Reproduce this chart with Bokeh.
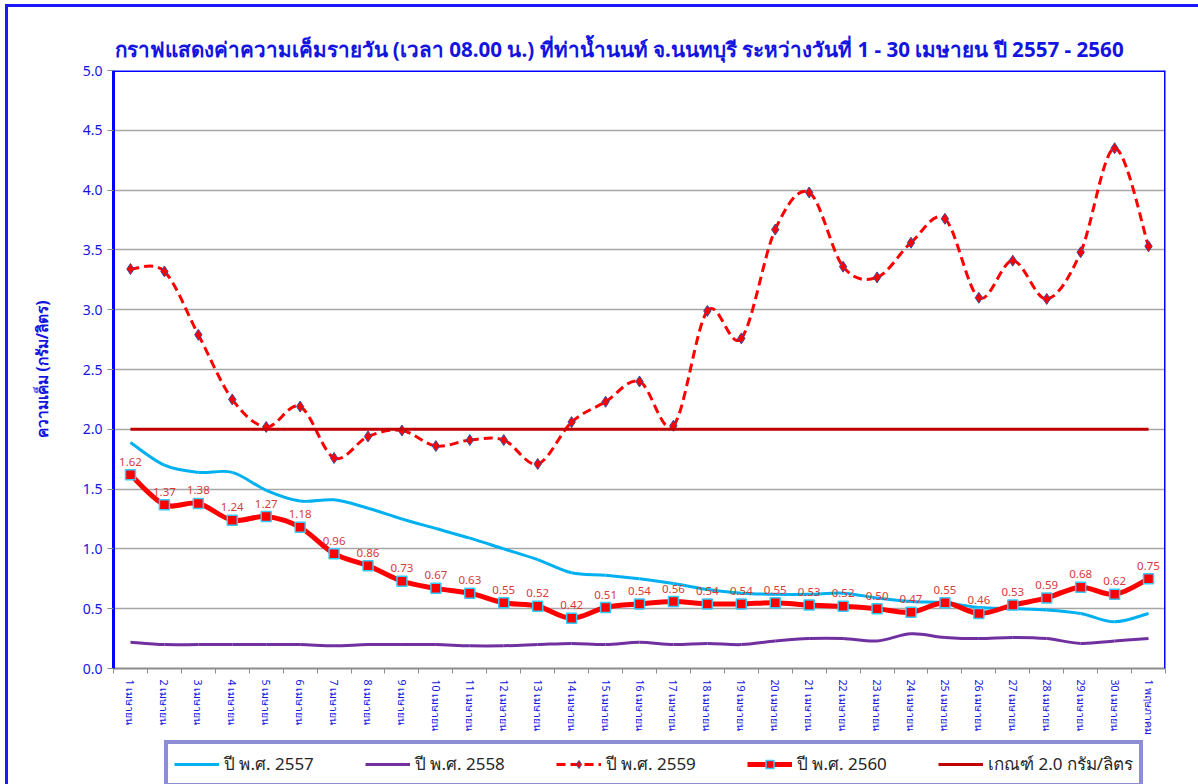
from bokeh.plotting import figure
from bokeh.layouts import column
from bokeh.models import (Range1d, FixedTicker, NumeralTickFormatter, Span, Legend,
                          LegendItem, ColumnDataSource)
from bokeh.core.properties import value
from bokeh.embed import file_html
from bokeh.resources import INLINE

# ---------------- data ----------------
day_labels = ["1 เมษายน", "2 เมษายน", "3 เมษายน", "4 เมษายน", "5 เมษายน", "6 เมษายน",
              "7 เมษายน", "8 เมษายน", "9 เมษายน", "10 เมษายน", "11 เมษายน", "12 เมษายน",
              "13 เมษายน", "14 เมษายน", "15 เมษายน", "16 เมษายน", "17 เมษายน", "18 เมษายน",
              "19 เมษายน", "20 เมษายน", "21 เมษายน", "22 เมษายน", "23 เมษายน", "24 เมษายน",
              "25 เมษายน", "26 เมษายน", "27 เมษายน", "28 เมษายน", "29 เมษายน", "30 เมษายน",
              "1 พฤษภาคม"]
day_index = list(range(1, 32))

y2557 = [1.89, 1.70, 1.64, 1.64, 1.49, 1.40, 1.41, 1.34, 1.25, 1.17, 1.09, 1.00, 0.91, 0.80,
         0.78, 0.75, 0.71, 0.66, 0.63, 0.62, 0.62, 0.63, 0.59, 0.56, 0.55, 0.51, 0.50, 0.49,
         0.46, 0.39, 0.46]
y2558 = [0.22, 0.20, 0.20, 0.20, 0.20, 0.20, 0.19, 0.20, 0.20, 0.20, 0.19, 0.19, 0.20, 0.21,
         0.20, 0.22, 0.20, 0.21, 0.20, 0.23, 0.25, 0.25, 0.23, 0.29, 0.26, 0.25, 0.26, 0.25,
         0.21, 0.23, 0.25]
y2559 = [3.34, 3.32, 2.79, 2.25, 2.02, 2.19, 1.76, 1.94, 1.99, 1.86, 1.91, 1.91, 1.71, 2.06,
         2.23, 2.40, 2.03, 2.99, 2.76, 3.67, 3.98, 3.36, 3.27, 3.56, 3.76, 3.10, 3.41, 3.09,
         3.48, 4.35, 3.53]
y2560 = [1.62, 1.37, 1.38, 1.24, 1.27, 1.18, 0.96, 0.86, 0.73, 0.67, 0.63, 0.55, 0.52, 0.42,
         0.51, 0.54, 0.56, 0.54, 0.54, 0.55, 0.53, 0.52, 0.50, 0.47, 0.55, 0.46, 0.53, 0.59,
         0.68, 0.62, 0.75]
threshold = 2.0

series_names = ["ปี พ.ศ. 2557", "ปี พ.ศ. 2558", "ปี พ.ศ. 2559", "ปี พ.ศ. 2560",
                "เกณฑ์ 2.0 กรัม/ลิตร"]
title_text = ("กราฟแสดงค่าความเค็มรายวัน (เวลา 08.00 น.) ที่ท่าน้ำนนท์ จ.นนทบุรี "
              "ระหว่างวันที่ 1 - 30 เมษายน ปี 2557 - 2560")
y_label = "ความเค็ม (กรัม/ลิตร)"

FONT = "Noto Sans"
BLUE = "#1414E0"

C57, C58, C59, C60, CTH = "#00b0f0", "#7030a0", "#ff0000", "#ff0000", "#c00000"


def smooth(xs, ys):
    """Bezier segments through the data points (Excel-style smoothed line)."""
    n = len(xs)
    d = dict(x0=[], y0=[], x1=[], y1=[], cx0=[], cy0=[], cx1=[], cy1=[])
    for i in range(n - 1):
        a = i - 1 if i > 0 else i
        b = i + 2 if i + 2 < n else i + 1
        d["x0"].append(xs[i]); d["y0"].append(ys[i])
        d["x1"].append(xs[i + 1]); d["y1"].append(ys[i + 1])
        d["cx0"].append(xs[i] + (xs[i + 1] - xs[a]) / 6)
        d["cy0"].append(ys[i] + (ys[i + 1] - ys[a]) / 6)
        d["cx1"].append(xs[i + 1] - (xs[b] - xs[i]) / 6)
        d["cy1"].append(ys[i + 1] - (ys[b] - ys[i]) / 6)
    return ColumnDataSource(d)


BZ = ("x0", "y0", "x1", "y1", "cx0", "cy0", "cx1", "cy1")

# ---------------- main chart ----------------
p = figure(width=1190, height=731, x_range=Range1d(0.5, 31.5), y_range=Range1d(0, 5),
           output_backend="svg", toolbar_location=None,
           min_border_left=105, min_border_right=33, min_border_top=63, min_border_bottom=67)
p.outline_line_color = None
p.background_fill_color = "white"

p.title.text = title_text
p.title.text_font = FONT
p.title.text_font_size = "20.6px"
p.title.text_font_style = "bold"
p.title.text_color = BLUE
p.title.align = "left"
p.title.offset = 1
p.title.standoff = 16

p.xaxis.ticker = FixedTicker(ticks=day_index, minor_ticks=[i + 0.5 for i in range(0, 32)])
p.xaxis.major_label_overrides = {i: lab for i, lab in zip(day_index, day_labels)}
p.xaxis.major_label_orientation = "vertical"
p.xaxis.major_label_text_font = FONT
p.xaxis.major_label_text_font_size = "10.5px"
p.xaxis.major_label_text_color = BLUE
p.xaxis.major_label_standoff = 5
p.xaxis.major_tick_line_color = None
p.xaxis.minor_tick_line_color = "#8c8c8c"
p.xaxis.minor_tick_out = 5
p.xaxis.minor_tick_in = 0
p.xaxis.axis_line_color = "#8c8c8c"
p.xaxis.axis_line_width = 2

p.yaxis.ticker = FixedTicker(ticks=[0, 0.5, 1, 1.5, 2, 2.5, 3, 3.5, 4, 4.5, 5])
p.yaxis.formatter = NumeralTickFormatter(format="0.0")
p.yaxis.major_label_text_font = FONT
p.yaxis.major_label_text_font_size = "14px"
p.yaxis.major_label_text_color = BLUE
p.yaxis.major_tick_line_color = "#8c8c8c"
p.yaxis.major_tick_out = 6
p.yaxis.major_tick_in = 0
p.yaxis.minor_tick_line_color = None
p.yaxis.axis_line_color = "#0000ff"
p.yaxis.axis_line_width = 3
p.yaxis.axis_label = y_label
p.yaxis.axis_label_text_font = FONT
p.yaxis.axis_label_text_font_size = "15.5px"
p.yaxis.axis_label_text_font_style = "bold"
p.yaxis.axis_label_text_color = BLUE
p.yaxis.axis_label_standoff = 27

p.xgrid.grid_line_color = None
p.ygrid.grid_line_color = "#a6a6a6"
p.ygrid.grid_line_width = 1.5

p.add_layout(Span(location=5, dimension="width", line_color="#0000ff", line_width=3))
p.add_layout(Span(location=31.5, dimension="height", line_color="#0000ff", line_width=3))

p.bezier(*BZ, source=smooth(day_index, y2557), line_color=C57, line_width=3)
p.bezier(*BZ, source=smooth(day_index, y2558), line_color=C58, line_width=3)
p.bezier(*BZ, source=smooth(day_index, y2559), line_color=C59, line_width=3, line_dash="9 5")
p.scatter(day_index, y2559, marker="diamond", size=11, fill_color=C59,
          line_color="#3a4a9a", line_width=1)
p.line([day_index[0], day_index[-1]], [threshold, threshold], line_color=CTH, line_width=3)
p.bezier(*BZ, source=smooth(day_index, y2560), line_color=C60, line_width=5)
p.scatter(day_index, y2560, marker="square", size=10, fill_color=C60,
          line_color="#33ccff", line_width=1.5)
p.text(day_index, y2560, text=[f"{v:.2f}" for v in y2560], text_align="center",
       text_baseline="bottom", y_offset=-9, text_font=value(FONT), text_font_size="11.5px",
       text_color="#d63a3a")

# ---------------- legend strip (its renderers lie outside its view) ----------------
lf = figure(width=1190, height=46, x_range=Range1d(100, 101), y_range=Range1d(100, 101),
            output_backend="svg", toolbar_location=None, x_axis_location=None,
            y_axis_location=None, min_border=0)
lf.outline_line_color = None
lf.xgrid.grid_line_color = None
lf.ygrid.grid_line_color = None
g57 = lf.line(day_index, y2557, line_color=C57, line_width=3)
g58 = lf.line(day_index, y2558, line_color=C58, line_width=3)
g59l = lf.line(day_index, y2559, line_color=C59, line_width=3, line_dash="9 5")
g59m = lf.scatter(day_index, y2559, marker="diamond", size=11, fill_color=C59,
                  line_color="#3a4a9a", line_width=1)
g60l = lf.line(day_index, y2560, line_color=C60, line_width=5)
g60m = lf.scatter(day_index, y2560, marker="square", size=10, fill_color=C60,
                  line_color="#33ccff", line_width=1.5)
gth = lf.line(day_index, [threshold] * len(day_index), line_color=CTH, line_width=3)

legend = Legend(items=[
    LegendItem(label=series_names[0], renderers=[g57]),
    LegendItem(label=series_names[1], renderers=[g58]),
    LegendItem(label=series_names[2], renderers=[g59l, g59m]),
    LegendItem(label=series_names[3], renderers=[g60l, g60m]),
    LegendItem(label=series_names[4], renderers=[gth]),
], orientation="horizontal", location=(51, -3), padding=6, spacing=0,
    glyph_width=45, label_width=141, label_standoff=5, margin=0,
    label_text_font=FONT, label_text_font_size="17px", label_text_color="#262626",
    border_line_color="#1c1ca8", border_line_width=4, background_fill_color="white")
lf.add_layout(legend, "center")

page = column(p, lf, spacing=0,
              styles={"margin-left": "8px", "margin-top": "7px",
                      "outline": "3px solid #1a1aff", "outline-offset": "0px"})

open("out.html", "w").write(file_html(page, INLINE))
